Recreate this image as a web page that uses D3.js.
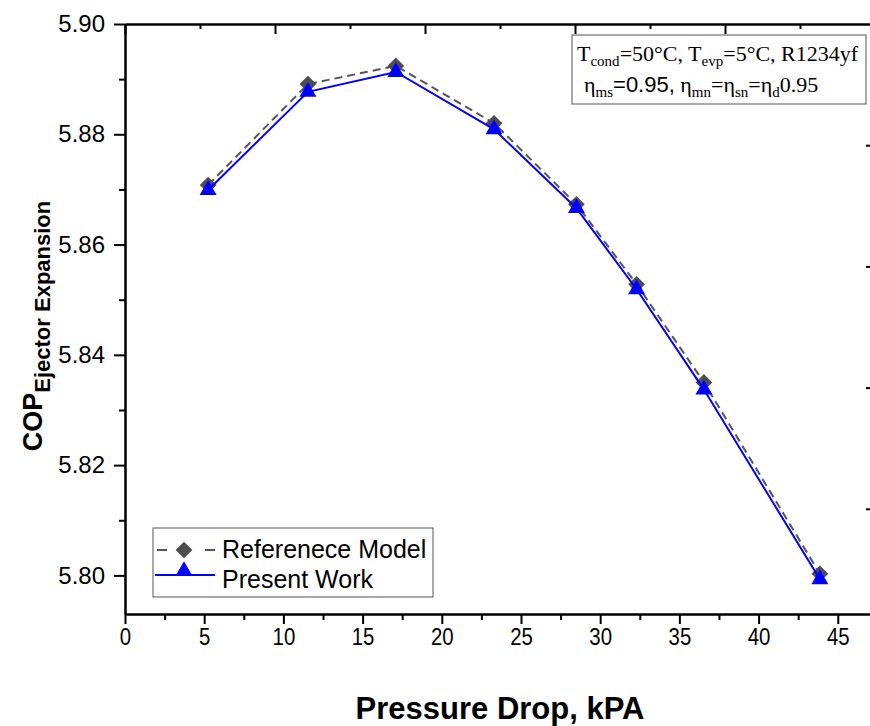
<!DOCTYPE html>
<html>
  <head>
    <title>COP vs Pressure Drop</title>
    <style>
      html,
      body {
        margin: 0;
        padding: 0;
        background: #fff;
      }
    </style>
  </head>
  <body>
    <svg id="svg" width="870" height="726"></svg>

    <script src="https://cdn.jsdelivr.net/npm/d3@7"></script>
    <script>
      // values
      const pressureDrop = [5.25, 11.55, 17.1, 23.3, 28.5, 32.3, 36.55, 43.87];
      const referenceModel = [5.8708, 5.8891, 5.8924, 5.8820, 5.8673, 5.8528, 5.8350, 5.8003];
      const presentWork = [5.8699, 5.8877, 5.8913, 5.8809, 5.8666, 5.8519, 5.8337, 5.7993];
      const xTicks = [0, 5, 10, 15, 20, 25, 30, 35, 40, 45];
      const yTicks = [5.80, 5.82, 5.84, 5.86, 5.88, 5.90];
      const seriesNames = ['Referenece Model', 'Present Work'];

      const plotLeft = 125;
      const plotRight = 875;
      const plotTop = 24;
      const plotBottom = 614;
      const sans = 'Liberation Sans, Arial, sans-serif';
      const serif = 'Liberation Serif, Times New Roman, serif';

      const svg = d3.select('#svg');

      const xScale = d3
        .scaleLinear()
        .domain([0, 47.35])
        .range([plotLeft, plotRight]);
      const yScale = d3
        .scaleLinear()
        .domain([5.793, 5.9])
        .range([plotBottom, plotTop]);
      // the mirror axes of the frame have their own spacing in the figure
      const topScale = d3.scaleLinear().domain([0, 10]).range([plotLeft, plotRight]);
      const rightScale = d3.scaleLinear().domain([0, 5]).range([630, plotTop]);

      const styleAxis = (g) => {
        g.select('.domain').attr('stroke', '#000').attr('stroke-width', 2);
        g.selectAll('.tick line').attr('stroke', '#000').attr('stroke-width', 2);
        g.selectAll('text')
          .attr('fill', '#000')
          .attr('font-family', sans)
          .attr('font-size', 24);
      };

      // minor ticks first
      svg
        .append('g')
        .attr('transform', `translate(0, ${plotBottom})`)
        .call(
          d3.axisBottom(xScale).tickValues(d3.range(2.5, 47, 5)).tickSize(6).tickFormat('').tickSizeOuter(0)
        )
        .call(styleAxis);
      svg
        .append('g')
        .attr('transform', `translate(${plotLeft}, 0)`)
        .call(
          d3.axisLeft(yScale).tickValues([5.81, 5.83, 5.85, 5.87, 5.89]).tickSize(6).tickFormat('').tickSizeOuter(0)
        )
        .call(styleAxis);

      const xAxis = svg
        .append('g')
        .attr('transform', `translate(0, ${plotBottom})`)
        .call(d3.axisBottom(xScale).tickValues(xTicks).tickSize(10).tickPadding(4).tickSizeOuter(0))
        .call(styleAxis);
      xAxis.selectAll('text').attr('transform', 'scale(0.85, 1)');

      svg
        .append('g')
        .attr('transform', `translate(${plotLeft}, 0)`)
        .call(
          d3.axisLeft(yScale).tickValues(yTicks).tickSize(11).tickPadding(9).tickFormat(d3.format('.2f')).tickSizeOuter(0)
        )
        .call(styleAxis);

      // frame: top and right with inward ticks
      svg
        .append('g')
        .attr('transform', `translate(0, ${plotTop})`)
        .call(d3.axisBottom(topScale).tickValues(d3.range(0, 11, 2)).tickSize(10).tickFormat('').tickSizeOuter(0))
        .call(styleAxis);
      svg
        .append('g')
        .attr('transform', `translate(0, ${plotTop})`)
        .call(d3.axisBottom(topScale).tickValues(d3.range(1, 11, 2)).tickSize(5).tickFormat('').tickSizeOuter(0))
        .call(styleAxis);
      svg
        .append('g')
        .attr('transform', `translate(${plotRight}, 0)`)
        .call(d3.axisLeft(rightScale).tickValues(d3.range(1, 5)).tickSize(9).tickFormat('').tickSizeOuter(0))
        .call(styleAxis);

      const refData = pressureDrop.map((x, i) => ({ x, y: referenceModel[i] }));
      const presData = pressureDrop.map((x, i) => ({ x, y: presentWork[i] }));

      const linegen = d3
        .line()
        .x((d) => xScale(d.x))
        .y((d) => yScale(d.y));

      const diamond = d3.symbol(d3.symbolSquare, 140);
      const triangle = d3.symbol(d3.symbolTriangle, 125);

      const graph = svg.append('g');
      graph
        .append('path')
        .attr('d', linegen(refData))
        .attr('fill', 'none')
        .attr('stroke', '#555')
        .attr('stroke-width', 2)
        .attr('stroke-dasharray', '8,5');
      graph
        .selectAll('.dia')
        .data(refData)
        .join('path')
        .attr('class', 'dia')
        .attr('d', diamond)
        .attr('fill', '#4d4d4d')
        .attr('transform', (d) => `translate(${xScale(d.x)}, ${yScale(d.y)}) rotate(45)`);

      graph
        .append('path')
        .attr('d', linegen(presData))
        .attr('fill', 'none')
        .attr('stroke', '#0000ff')
        .attr('stroke-width', 2);
      graph
        .selectAll('.tri')
        .data(presData)
        .join('path')
        .attr('class', 'tri')
        .attr('d', triangle)
        .attr('fill', '#0000ff')
        .attr('transform', (d) => `translate(${xScale(d.x)}, ${yScale(d.y)})`);

      // axis titles
      svg
        .append('text')
        .attr('x', 500)
        .attr('y', 719)
        .attr('text-anchor', 'middle')
        .attr('font-family', sans)
        .attr('font-weight', 'bold')
        .attr('font-size', 31)
        .text('Pressure Drop, kPA');

      const yTitle = svg
        .append('text')
        .attr('transform', 'translate(42, 326) rotate(-90)')
        .attr('text-anchor', 'middle')
        .attr('font-family', sans)
        .attr('font-weight', 'bold')
        .attr('font-size', 27);
      yTitle.append('tspan').text('COP');
      yTitle.append('tspan').attr('dy', 8).attr('font-size', 22).text('Ejector Expansion');

      // legend
      const legend = svg.append('g');
      legend
        .append('rect')
        .attr('x', 153)
        .attr('y', 528)
        .attr('width', 280)
        .attr('height', 69)
        .attr('fill', '#fff')
        .attr('stroke', '#555')
        .attr('stroke-width', 1);
      const rows = [550, 575];
      legend
        .append('line')
        .attr('x1', 157)
        .attr('x2', 215)
        .attr('y1', rows[0])
        .attr('y2', rows[0])
        .attr('stroke', '#555')
        .attr('stroke-width', 2)
        .attr('stroke-dasharray', '10,38');
      legend
        .append('path')
        .attr('d', diamond)
        .attr('fill', '#4d4d4d')
        .attr('transform', `translate(184, ${rows[0]}) rotate(45)`);
      legend
        .append('line')
        .attr('x1', 155)
        .attr('x2', 215)
        .attr('y1', rows[1])
        .attr('y2', rows[1])
        .attr('stroke', '#0000ff')
        .attr('stroke-width', 2);
      legend
        .append('path')
        .attr('d', triangle)
        .attr('fill', '#0000ff')
        .attr('transform', `translate(184, ${rows[1] - 4})`);
      legend
        .selectAll('.lt')
        .data(seriesNames)
        .join('text')
        .attr('class', 'lt')
        .attr('x', 222)
        .attr('y', (d, i) => [558, 588][i])
        .attr('font-family', sans)
        .attr('font-size', 25)
        .text((d) => d);

      // conditions box
      const note = svg.append('g');
      note
        .append('rect')
        .attr('x', 572)
        .attr('y', 35)
        .attr('width', 294)
        .attr('height', 69)
        .attr('fill', '#fff')
        .attr('stroke', '#555')
        .attr('stroke-width', 1);

      const addRuns = (text, runs) => {
        let sub = false;
        runs.forEach(([s, kind]) => {
          const t = text.append('tspan').text(s);
          if (kind === 'sub') {
            t.attr('font-size', 15).attr('dy', sub ? 0 : 5);
            sub = true;
          } else {
            t.attr('dy', sub ? -5 : 0);
            sub = false;
            if (kind === 'sans') t.attr('font-family', sans);
          }
        });
      };

      const line1 = note
        .append('text')
        .attr('x', 577)
        .attr('y', 61)
        .attr('font-family', serif)
        .attr('font-size', 22);
      addRuns(line1, [
        ['T'],
        ['cond', 'sub'],
        ['=50°C, T'],
        ['evp', 'sub'],
        ['=5°C, R1234yf'],
      ]);

      const line2 = note
        .append('text')
        .attr('x', 584)
        .attr('y', 92)
        .attr('font-family', serif)
        .attr('font-size', 22);
      addRuns(line2, [
        ['η'],
        ['ms', 'sub'],
        ['=0.95,', 'sans'],
        [' η'],
        ['mn', 'sub'],
        ['=η'],
        ['sn', 'sub'],
        ['=η'],
        ['d', 'sub'],
        ['0.95'],
      ]);
    </script>
  </body>
</html>
